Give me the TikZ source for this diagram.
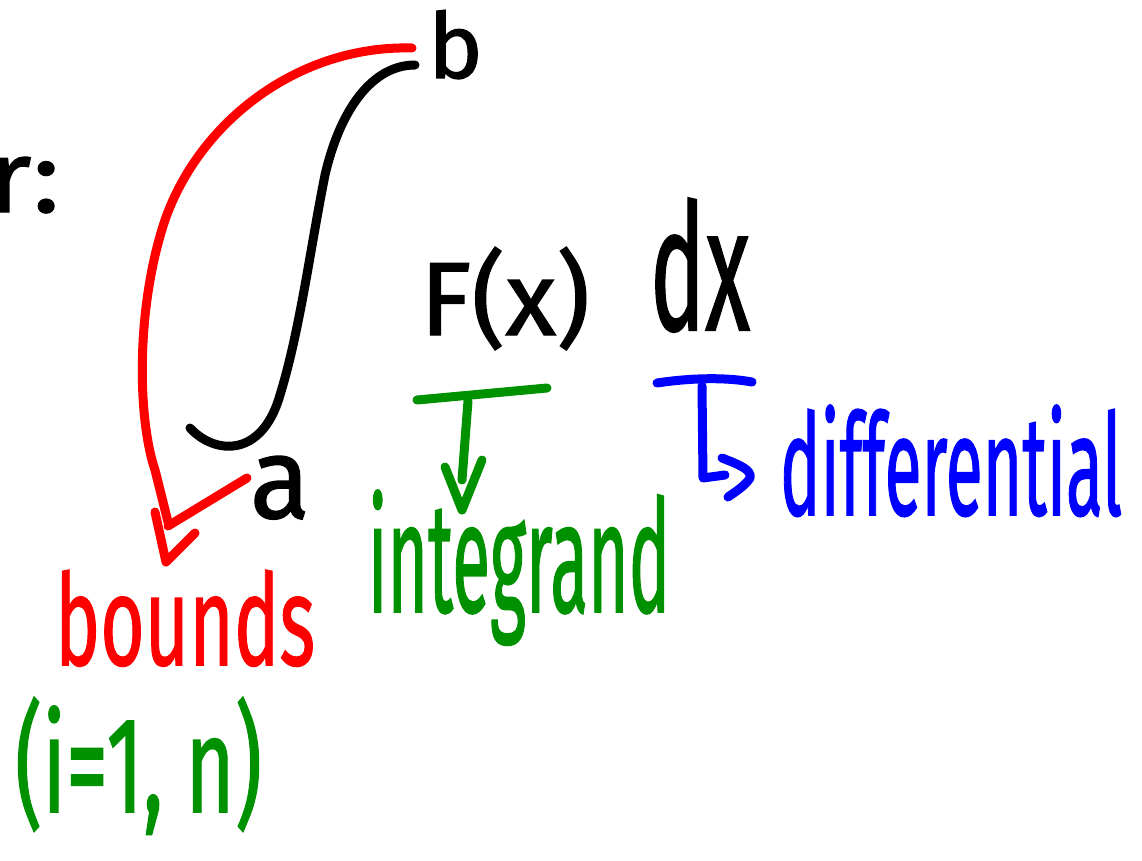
\documentclass[tikz,border=0pt]{standalone}
\usepackage{fontspec}
\setmainfont{Fira Sans}
\newfontfamily\hwfont{Fira Sans}[FakeBold=1.2]
\usepackage{graphicx}
\definecolor{hwred}{RGB}{255,0,0}
\definecolor{hwgreen}{RGB}{0,145,0}
\definecolor{hwblue}{RGB}{0,0,255}
\newcommand\hwtext[3]{\resizebox{#1pt}{#2pt}{\hwfont #3}}
\tikzset{
  pen/.style={line width=9pt, line cap=round, line join=round},
  txt/.style={anchor=base west, inner sep=0pt, outer sep=0pt}
}
\begin{document}
\begin{tikzpicture}[x=1pt,y=-1pt]
\useasboundingbox (0,0) rectangle (1142,861);
% left cut-off "r:"
\node[anchor=base east, inner sep=0pt] (rlabel) at (60,212) {\hwtext{72}{55}{r:}};
% integral sign
\draw[pen, black] (190,428) .. controls (215,455) and (262,458) .. (280,395)
  .. controls (300,330) and (310,250) .. (325,175)
  .. controls (340,110) and (372,65) .. (415,65);
% red bracket arrow
\draw[pen, hwred] (412,48) .. controls (300,45) and (200,120) .. (165,220)
  .. controls (135,310) and (138,420) .. (155,470) -- (168,522);
\draw[pen, hwred] (168,526) -- (247,478);
\draw[pen, hwred] (155,512) -- (166,562) -- (195,533);
% labels
\node[txt] (b) at (428,78) {\hwtext{55}{68}{b}};
\node[txt] (a) at (250,518) {\hwtext{60}{62}{a}};
\node[txt] (Fx) at (420,335) {\hwtext{170}{88}{F(x)}};
\node[txt] (dx) at (650,330) {\hwtext{100}{132}{dx}};
% green arrow
\draw[pen, hwgreen] (417,400) -- (547,388);
\draw[pen, hwgreen] (468,401) -- (462,480);
\draw[pen, hwgreen] (445,467) -- (462,510) -- (482,460);
% blue arrow
\draw[pen, hwblue] (657,383) .. controls (690,378) and (725,377) .. (752,382);
\draw[pen, hwblue] (702,386) -- (703,478) -- (725,475);
\draw[pen, hwblue] (722,458) .. controls (740,465) and (752,470) .. (750,478) .. controls (745,486) and (735,492) .. (728,497);
% texts
\node[txt, text=hwred] (bounds) at (55,665) {\hwtext{260}{95}{bounds}};
\node[txt, text=hwgreen] (integrand) at (368,612) {\hwtext{302}{122}{integrand}};
\node[txt, text=hwblue] (differential) at (780,515) {\hwtext{342}{110}{differential}};
\node[txt, text=hwgreen] (range) at (15,812) {\hwtext{247}{115}{(i=1, n)}};
\end{tikzpicture}
\end{document}
